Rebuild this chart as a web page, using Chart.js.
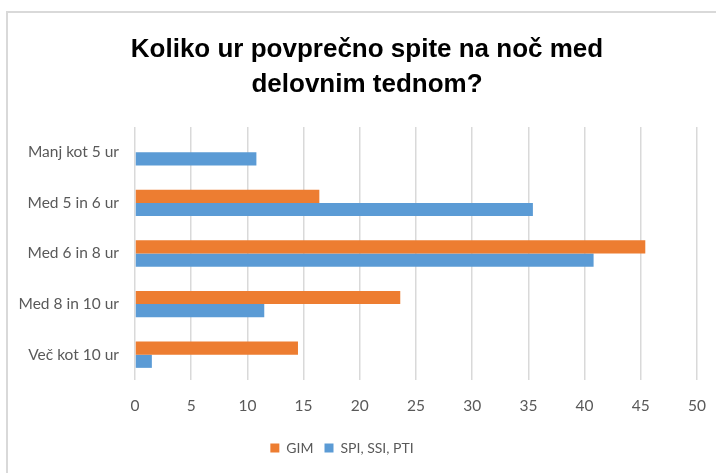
<!DOCTYPE html>
<html lang="sl">
<head>
<meta charset="UTF-8">
<title>Koliko ur povprečno spite</title>
<script src="https://cdn.jsdelivr.net/npm/chart.js"></script>
<style>
    html, body { margin: 0; padding: 0; background: #fff; }
    .wrap { position: relative; width: 716px; height: 473px; overflow: hidden; }
    .frame {
        position: absolute; left: 6px; top: 11px; width: 800px; height: 600px;
        border: 2px solid #d9d9d9; pointer-events: none;
    }
</style>
</head>
<body>
<div class="wrap">
    <canvas id="sleepChart" width="716" height="473"></canvas>
    <div class="frame"></div>
</div>
<script>
    // podatki
    const categories = ['Manj kot 5 ur', 'Med 5 in 6 ur', 'Med 6 in 8 ur', 'Med 8 in 10 ur', 'Več kot 10 ur'];
    const gimValues = [0, 16.4, 45.4, 23.6, 14.5];
    const spiValues = [10.8, 35.4, 40.8, 11.5, 1.5];
    const xTicks = [0, 5, 10, 15, 20, 25, 30, 35, 40, 45, 50];

    // naslov in legenda nista centrirana na sredino platna, kot v izvirniku
    const shiftBlocks = {
        id: 'shiftBlocks',
        afterLayout(chart) {
            chart.titleBlock.left = 28;
            chart.titleBlock.right = 706;
            chart.legend.right = chart.legend.left + 684;
        }
    };

    const labelFont = { family: 'Lato, sans-serif', size: 15.5 };

    const ctx = document.getElementById('sleepChart').getContext('2d');
    new Chart(ctx, {
        type: 'bar',
        data: {
            labels: categories,
            datasets: [{
                label: 'GIM',
                data: gimValues,
                backgroundColor: '#ed7d31',
                barPercentage: 1,
                categoryPercentage: 0.52
            },
            {
                label: 'SPI, SSI, PTI',
                data: spiValues,
                backgroundColor: '#5b9bd5',
                barPercentage: 1,
                categoryPercentage: 0.52
            }]
        },
        options: {
            indexAxis: 'y',
            responsive: false,
            animation: false,
            layout: { padding: { left: 0, right: 19, top: 0, bottom: 8 } },
            plugins: {
                title: {
                    display: true,
                    text: ['Koliko ur povprečno spite na noč med', 'delovnim tednom?'],
                    color: '#000',
                    font: { family: "'Liberation Sans', Arial, sans-serif", size: 26, weight: 'bold', lineHeight: 1.346 },
                    padding: { top: 32, bottom: 25 }
                },
                legend: {
                    position: 'bottom',
                    labels: {
                        boxWidth: 9,
                        boxHeight: 9,
                        padding: 11,
                        color: '#595959',
                        font: { family: 'Lato, sans-serif', size: 14 }
                    }
                },
                tooltip: { enabled: false }
            },
            scales: {
                x: {
                    min: 0,
                    max: 50,
                    afterBuildTicks(scale) {
                        scale.ticks = xTicks.map(v => ({ value: v }));
                    },
                    afterFit(scale) {
                        scale.height = 50;
                        scale.paddingRight = 0;
                    },
                    grid: { color: '#d9d9d9', lineWidth: 1.5, drawTicks: false },
                    border: { display: false },
                    ticks: {
                        padding: 17,
                        color: '#595959',
                        font: labelFont
                    }
                },
                y: {
                    afterFit(scale) { scale.width = 135; },
                    grid: { display: false, drawTicks: false },
                    border: { display: false },
                    ticks: {
                        padding: 16,
                        color: '#595959',
                        font: labelFont
                    }
                }
            }
        },
        plugins: [shiftBlocks]
    });
</script>
</body>
</html>
